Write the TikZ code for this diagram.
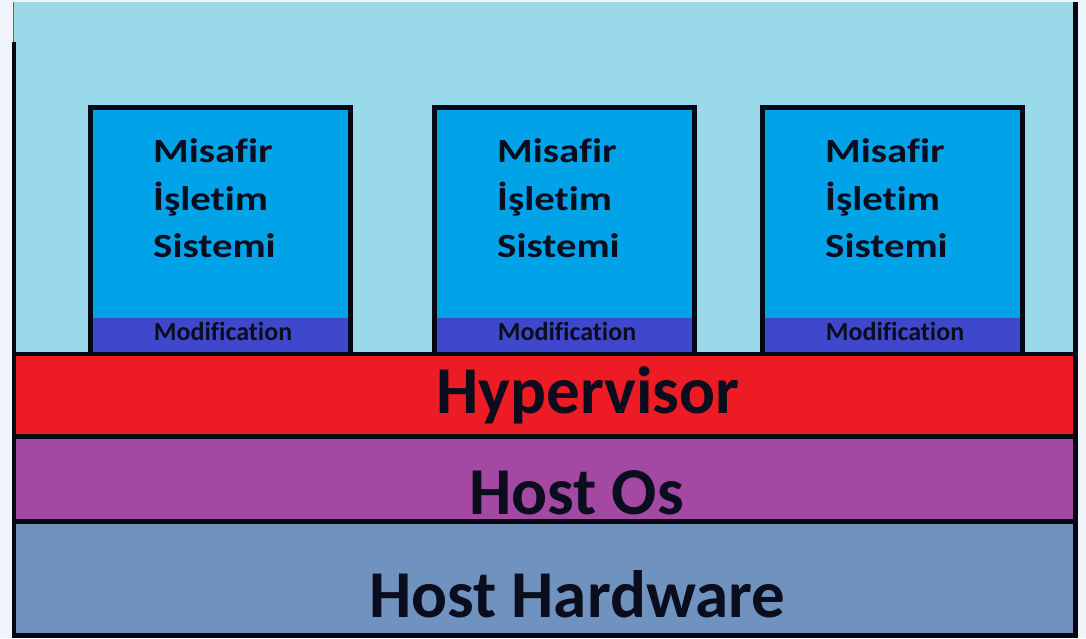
\documentclass[tikz,border=0pt]{standalone}
\usepackage{fontspec}
\setmainfont{Carlito}[Ligatures=CommonOff]
\newfontfamily\guestfont{Carlito}[FakeStretch=1.2, Ligatures=CommonOff]
\definecolor{pagebg}{HTML}{EFF3FA}
\definecolor{sky}{HTML}{99D9EA}
\definecolor{guestblue}{HTML}{00A2E8}
\definecolor{modblue}{HTML}{3F48CC}
\definecolor{hypred}{HTML}{ED1C24}
\definecolor{hostpurple}{HTML}{A349A4}
\definecolor{hwblue}{HTML}{7092BE}
\definecolor{ink}{HTML}{0A0D1E}
\definecolor{edge}{HTML}{050814}
\tikzset{
  layertext/.style={anchor=base, inner sep=0pt, text=ink,
    font=\fontsize{67}{67}\selectfont\bfseries},
  guesttext/.style={anchor=base west, inner sep=0pt, text=ink,
    font=\guestfont\fontsize{34}{34}\selectfont\bfseries},
  modtext/.style={anchor=base, inner sep=0pt, text=ink,
    font=\fontsize{26}{26}\selectfont\bfseries},
  rule/.style={draw=edge, line width=5pt},
}
\begin{document}
\begin{tikzpicture}[x=1pt, y=-1pt]
\useasboundingbox (0,0) rectangle (1086,638);
\fill[pagebg] (0,0) rectangle (1086,638);

% sky behind the guest systems and the three layers
\fill[sky]        (14,2)     rectangle (1075,354);
\fill[hypred]     (14,354)   rectangle (1075,436.5);
\fill[hostpurple] (14,436.5) rectangle (1075,521.5);
\fill[hwblue]     (14,521.5) rectangle (1075,635.5);

% guest operating systems
\foreach \x [count=\i] in {88,432,760} {
  \fill[guestblue] (\x+2.5,107.5) rectangle (\x+262.5,353.5);
  \fill[modblue]   (\x+2.5,318)   rectangle (\x+262.5,353.5);
  \draw[rule] (\x+2.5,353.5) -- (\x+2.5,107.5) -- (\x+262.5,107.5) -- (\x+262.5,353.5);
  \node[guesttext] (misafir\i) at (\x+65,162) {Misafir};
  \node[guesttext] (isletim\i) at (\x+65,210) {İşletim};
  \node[guesttext] (sistemi\i) at (\x+65,257) {Sistemi};
  \node[modtext]   (mod\i)     at (\x+135,340) {Modification};
}

% layer separators and frame
\draw[draw=edge, line width=4pt] (12,353.5) -- (1078,353.5);
\draw[rule] (12,436.5) -- (1078,436.5);
\draw[rule] (12,521.5) -- (1078,521.5);
\draw[rule] (12,635.5) -- (1078,635.5);
\draw[draw=edge, line width=4pt] (14,42) -- (14,638);
\draw[draw=black!60, line width=1.2pt] (13.5,2) -- (13.5,42);
\draw[rule] (1075.5,2) -- (1075.5,638);

% layer labels
\node[layertext] (hypervisor) at (588,413) {Hypervisor};
\node[layertext] (hostos)     at (576.5,514) {Host Os};
\node[layertext] (hosthw)     at (577,617) {Host Hardware};
\end{tikzpicture}
\end{document}
